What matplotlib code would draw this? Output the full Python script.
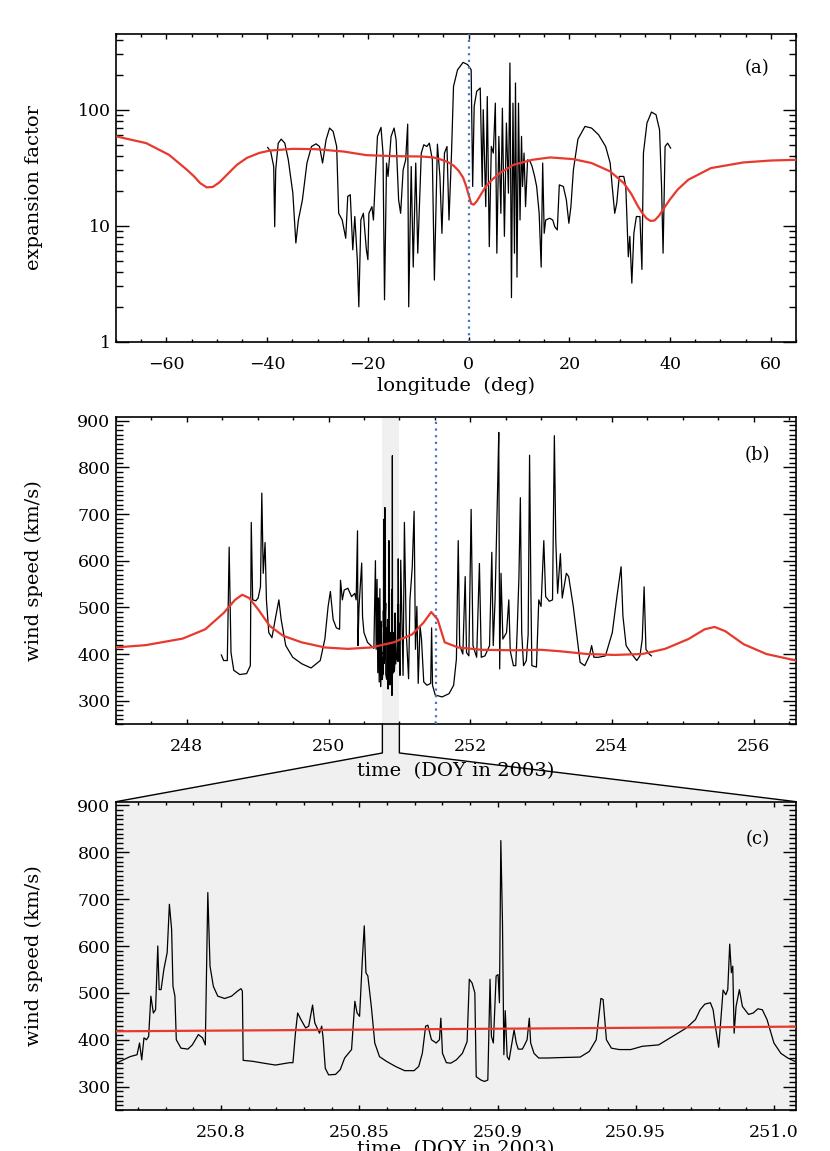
import matplotlib.pyplot as plt
import matplotlib.transforms as mtransforms
from matplotlib.ticker import FixedLocator, FixedFormatter, MultipleLocator, NullFormatter, LogLocator
from matplotlib.patches import Polygon
from matplotlib.lines import Line2D
import numpy as np

# ---- panel (a): expansion factor vs longitude ----
lon_model = [-70, -64, -59.5, -55.9, -54.5, -53.3, -52.0, -50.8, -49.5, -47.7, -46.0, -44.0,
             -41.5, -39.4, -34.9, -30.3, -24.8, -20.3, -14.8, -9.3, -7.0, -5.7, -4.2, -3.0,
             -2.0, -1.1, -0.5, 0.0, 0.5, 1.0, 1.6, 2.5, 3.4, 4.8, 6.2, 8.9, 12.6, 16.2, 20.8,
             24.4, 28.1, 30.8, 32.3, 33.5, 34.5, 35.3, 36.1, 36.9, 37.8, 38.8, 39.9, 41.5,
             43.6, 48.1, 54.5, 60, 65]
efac_model = [59, 51.5, 40.9, 30.3, 26.6, 23.3, 21.4, 21.6, 23.6, 28.3, 33.5, 38.5,
              42.5, 44.5, 46, 45.7, 43.6, 40.6, 39.8, 39.5, 38.8, 37.5, 35.5, 33.0,
              29.8, 26.0, 22.0, 18.5, 15.5, 15.2, 16.2, 18.8, 21.8, 25.3, 28.4, 33.5, 37, 38.8, 37.5,
              34.7, 29.4, 23.3, 18.8, 15.0, 12.8, 11.6, 11.0, 11.1, 12.2, 14.2, 16.7, 20.5,
              24.9, 31.4, 35.1, 36.5, 37.0]

lon_obs = [-39.9, -39.3, -38.7, -38.5, -38.3, -37.8, -37.2, -36.5, -35.8, -34.9, -34.3, -33.8,
           -33.0, -32.1, -31.2, -30.3, -29.6, -29.0, -28.3, -27.6, -26.9, -26.2, -25.8, -25.1,
           -24.4, -24.0, -23.5, -23.0, -22.6, -22.1, -21.8, -21.4, -20.9, -20.3, -20.0, -19.8,
           -19.2, -18.9, -18.5, -18.1, -17.4, -17.0, -16.7, -16.3, -16.0, -15.4, -14.8, -14.4,
           -13.9, -13.5, -13.0, -12.5, -12.1, -11.9, -11.4, -11.0, -10.5, -10.1, -9.4, -8.9,
           -8.3, -7.8, -7.2, -6.8, -6.2, -5.7, -5.3, -4.8, -4.3, -3.9, -3.4, -3.0, -2.2, -1.1,
           -0.2, 0.5, 0.8, 1.1, 1.6, 2.3, 2.7, 2.9, 3.4, 3.7, 4.1, 4.5, 4.9, 5.3, 5.6, 6.0,
           6.4, 6.7, 7.1, 7.5, 7.9, 8.2, 8.5, 8.8, 9.1, 9.3, 9.6, 9.9, 10.2, 10.5, 10.7, 11.0,
           11.3, 11.7, 12.2, 12.6, 13.1, 13.5, 14.0, 14.4, 14.7, 15.0, 15.3, 16.1, 16.7, 17.1,
           17.6, 18.0, 18.8, 19.4, 19.9, 20.3, 20.8, 21.7, 23.1, 24.4, 25.8, 27.2, 28.1, 28.5,
           29.0, 29.4, 29.9, 30.8, 31.2, 31.7, 32.0, 32.4, 32.8, 33.3, 34.0, 34.4, 34.7, 35.4,
           36.3, 37.2, 37.9, 38.3, 38.6, 39.0, 39.5, 40.1]
efac_obs = [47.3, 43.7, 32.4, 9.8, 30.3, 51.5, 55.8, 51.5, 37, 19.1, 7.1, 11.2,
            16.7, 34.7, 48.2, 50.8, 48.2, 34.7, 55.1, 69.5, 65, 48.2, 12.8, 11.2,
            7.8, 17.9, 18.5, 6.2, 12.0, 5.1, 2.0, 11.2, 12.8, 6.2, 5.1, 12.8,
            14.6, 11.2, 26.6, 58.9, 70.4, 42.3, 2.3, 34.7, 26.6, 58.9, 69.5, 55.1,
            16.7, 12.8, 30.3, 37, 75.2, 2.0, 32.4, 4.4, 34.7, 5.8, 42.3, 49.9,
            48.2, 51.5, 37, 3.4, 50.5, 26.6, 8.6, 42.3, 48.2, 11.2, 42.3, 159, 221, 256,
            245, 221, 21.8, 107, 144, 154, 21.8, 100, 14.6, 130, 6.6, 48.2, 42.3, 114, 5.8, 58.9,
            12.8, 103, 8.1, 76.7, 19.1, 253, 2.4, 114, 5.8, 170, 3.6, 114, 11.2, 58.9, 21.8, 42.3,
            14.6, 37, 35.8, 32.4, 26.6, 21.8, 12.8, 4.4, 34.7, 8.6, 11.2, 11.6, 11.2, 9.8,
            9.2, 22.5, 21.8, 16.7, 10.5, 14.6, 30.3, 55.8, 71.8, 69.5, 60.8, 48.2, 34.7, 21.8,
            12.8, 15.6, 26.6, 26.6, 21.8, 5.4, 8.1, 3.2, 8.6, 12.0, 12.0, 4.2, 42.3, 76.7,
            95.5, 90.6, 67.2, 21.8, 5.8, 48.2, 51.5, 46.7]

# ---- panel (b): wind speed vs time ----
t_model = [246.99, 247.42, 247.94, 248.26, 248.52, 248.68, 248.78, 248.88, 249.01, 249.17,
           249.36, 249.62, 249.95, 250.27, 250.60, 250.92, 251.18, 251.34, 251.45, 251.54,
           251.64, 251.83, 252.16, 252.61, 253.00, 253.26, 253.65, 254.04, 254.43, 254.75,
           255.08, 255.31, 255.45, 255.60, 255.86, 256.18, 256.60]
v_model = [414, 419, 433, 453, 488, 516, 527, 520, 495, 460,
           439, 425, 414, 411, 414, 425, 442, 467, 490, 474,
           425, 414, 409, 408, 409, 406, 400, 398, 400, 411,
           432, 453, 458, 449, 421, 400, 386]

t_pre = [248.487, 248.519, 248.571, 248.597, 248.623, 248.662, 248.747, 248.844, 248.896,
         248.909, 248.929, 248.974, 249.006, 249.039, 249.058, 249.078, 249.104, 249.123,
         249.156, 249.201, 249.247, 249.299, 249.331, 249.396, 249.494, 249.623, 249.753,
         249.883, 249.948, 249.994, 250.026, 250.065, 250.110, 250.156, 250.169, 250.195,
         250.221, 250.273, 250.325, 250.370, 250.390, 250.409, 250.415, 250.430, 250.468,
         250.480, 250.500, 250.550, 250.597, 250.640, 250.662, 250.672, 250.685, 250.695,
         250.705, 250.715, 250.725, 250.735, 250.745, 250.755]
v_pre = [398, 386, 386, 629, 403, 365, 356, 358, 375,
         682, 516, 514, 520, 544, 745, 573, 639, 516,
         446, 435, 474, 516, 474, 418, 393, 379, 370,
         386, 432, 502, 534, 474, 456, 453, 558, 516,
         537, 541, 523, 530, 516, 664, 418, 500, 595,
         480, 446, 425, 418, 412, 600, 410, 560, 360,
         520, 340, 540, 330, 470, 345]

t_post = [251.019, 251.052, 251.071, 251.097, 251.130, 251.149, 251.182, 251.208, 251.227,
          251.247, 251.266, 251.292, 251.312, 251.344, 251.390, 251.442, 251.455, 251.468,
          251.506, 251.604, 251.701, 251.766, 251.805, 251.831, 251.851, 251.896, 251.929,
          251.948, 251.981, 252.013, 252.039, 252.091, 252.130, 252.156, 252.208, 252.273,
          252.305, 252.325, 252.351, 252.390, 252.403, 252.416, 252.435, 252.461, 252.513,
          252.545, 252.565, 252.610, 252.643, 252.662, 252.688, 252.708, 252.727, 252.753,
          252.792, 252.818, 252.838, 252.857, 252.870, 252.935, 252.968, 253.000, 253.039,
          253.065, 253.117, 253.162, 253.188, 253.208, 253.234, 253.273, 253.299, 253.357,
          253.390, 253.455, 253.552, 253.617, 253.682, 253.714, 253.747, 253.812, 253.909,
          254.006, 254.071, 254.130, 254.156, 254.201, 254.266, 254.351, 254.396, 254.429,
          254.455, 254.481, 254.526, 254.558]
v_post = [601, 354, 682, 446, 347, 516, 587, 706, 410,
          502, 337, 460, 432, 340, 333, 337, 456, 333,
          312, 308, 315, 333, 389, 643, 418, 400, 566,
          403, 396, 710, 418, 393, 594, 393, 396, 418,
          618, 418, 516, 777, 875, 368, 573, 432, 446,
          516, 407, 375, 375, 446, 566, 735, 446, 375,
          386, 442, 826, 530, 375, 372, 516, 502, 643,
          523, 513, 516, 868, 643, 530, 615, 520, 573,
          566, 502, 382, 375, 396, 418, 393, 393, 396,
          446, 523, 587, 481, 418, 403, 386, 396, 432,
          544, 410, 400, 396]

# ---- panel (c): zoom on the shaded interval ----
t_zoom = [250.7621, 250.7646, 250.7671, 250.7696, 250.7705, 250.7713, 250.7721, 250.7730,
          250.7738, 250.7746, 250.7755, 250.7763, 250.7771, 250.7776, 250.7783, 250.7793,
          250.7805, 250.7813, 250.7821, 250.7826, 250.7833, 250.7838, 250.7855, 250.7880,
          250.7896, 250.7918, 250.7933, 250.7943, 250.7952, 250.7960, 250.7972, 250.7988,
          250.8013, 250.8038, 250.8060, 250.8072, 250.8077, 250.8080, 250.8114, 250.8164,
          250.8197, 250.8247, 250.8260, 250.8269, 250.8277, 250.8289, 250.8306, 250.8317,
          250.8331, 250.8339, 250.8356, 250.8364, 250.8369, 250.8377, 250.8389, 250.8414,
          250.8431, 250.8447, 250.8472, 250.8484, 250.8492, 250.8501, 250.8511, 250.8518,
          250.8524, 250.8531, 250.8544, 250.8556, 250.8573, 250.8598, 250.8631, 250.8664,
          250.8698, 250.8715, 250.8728, 250.8740, 250.8748, 250.8761, 250.8778, 250.8790,
          250.8795, 250.8801, 250.8815, 250.8831, 250.8851, 250.8873, 250.8890, 250.8898,
          250.8908, 250.8918, 250.8923, 250.8940, 250.8953, 250.8965, 250.8973, 250.8978,
          250.8985, 250.8995, 250.9002, 250.9007, 250.9012, 250.9018, 250.9023, 250.9028,
          250.9035, 250.9042, 250.9052, 250.9060, 250.9068, 250.9075, 250.9090, 250.9098,
          250.9107, 250.9115, 250.9120, 250.9132, 250.9149, 250.9182, 250.9232, 250.9299,
          250.9332, 250.9357, 250.9374, 250.9382, 250.9394, 250.9412, 250.9441, 250.9482,
          250.9524, 250.9583, 250.9633, 250.9683, 250.9716, 250.9733, 250.9750, 250.9770,
          250.9780, 250.9788, 250.9800, 250.9808, 250.9816, 250.9826, 250.9833, 250.9840,
          250.9846, 250.9851, 250.9856, 250.9863, 250.9875, 250.9886, 250.9908, 250.9925,
          250.9942, 250.9958, 250.9975, 251.0000, 251.0025, 251.0050, 251.0075, 251.0092]
v_zoom = [350, 357, 364, 368, 393, 357, 404, 400,
          407, 493, 457, 464, 600, 507, 507, 550,
          586, 689, 636, 514, 493, 400, 382, 380,
          389, 411, 404, 389, 714, 557, 514, 493,
          488, 493, 504, 509, 504, 356, 354, 349,
          346, 351, 351, 414, 457, 443, 425, 429,
          474, 436, 414, 429, 404, 339, 325, 326,
          336, 361, 379, 482, 457, 450, 571, 643,
          543, 536, 468, 393, 364, 354, 343, 334,
          334, 343, 371, 429, 431, 400, 393, 400,
          446, 371, 351, 350, 357, 371, 396, 529,
          521, 500, 321, 314, 311, 314, 529, 407,
          393, 536, 539, 479, 825, 650, 368, 462,
          364, 357, 393, 421, 393, 380, 380, 389,
          400, 446, 393, 371, 361, 361, 362, 363,
          375, 400, 488, 486, 400, 382, 379, 379,
          386, 389, 407, 425, 443, 464, 476, 479,
          464, 429, 384, 443, 506, 496, 507, 604,
          543, 557, 414, 471, 507, 471, 454, 457,
          466, 464, 443, 393, 371, 361, 354, 354]
t_zoom_model = [250.762, 250.80, 250.85, 250.90, 250.95, 251.009]
v_zoom_model = [418, 419.5, 421.5, 423.5, 425.5, 428]

band = [250.76, 251.0]
t_cme = 251.51

a_yticks = [1, 10, 100]
a_yticklabels = ['1', '10', '100']
speed_ticks = [300, 400, 500, 600, 700, 800, 900]
c_xticks = [250.8, 250.85, 250.9, 250.95, 251.0]
c_xticklabels = ['250.8', '250.85', '250.9', '250.95', '251.0']

RED = '#e8392e'
BLUE = '#4a74c4'
GRAY = '#eff0ef'
LABEL_SIZE = 14

plt.rcParams['font.family'] = ['DejaVu Serif']
plt.rcParams['mathtext.fontset'] = 'dejavuserif'


def style(ax):
    ax.tick_params(which='both', direction='in', top=True, right=True, labelsize=12.5, width=1.0)
    ax.tick_params(axis='x', which='major', length=3.5, pad=10)
    ax.tick_params(axis='x', which='minor', length=2.2)
    ax.tick_params(axis='y', which='major', length=9.5, pad=4)
    ax.tick_params(axis='y', which='minor', length=5)
    for sp in ax.spines.values():
        sp.set_linewidth(1.2)


fig = plt.figure(figsize=(8.30, 11.51), dpi=100)
ax_a = fig.add_axes([0.1398, 0.7031, 0.8193, 0.2674])
ax_b = fig.add_axes([0.1398, 0.3710, 0.8193, 0.2667])
ax_c = fig.add_axes([0.1398, 0.0356, 0.8193, 0.2679])

# (a)
ax_a.set_yscale('log')
ax_a.plot(lon_obs, efac_obs, color='black', lw=0.9, zorder=2)
ax_a.plot(lon_model, efac_model, color=RED, lw=1.6, zorder=3)
ax_a.axvline(0, color=BLUE, ls=(0, (1, 2)), lw=1.6, zorder=4)
ax_a.set_xlim(-70, 65)
ax_a.set_ylim(1, 450)
ax_a.xaxis.set_major_locator(MultipleLocator(20))
ax_a.xaxis.set_minor_locator(MultipleLocator(5))
ax_a.yaxis.set_major_locator(FixedLocator(a_yticks))
ax_a.yaxis.set_major_formatter(FixedFormatter(a_yticklabels))
ax_a.yaxis.set_minor_locator(LogLocator(base=10, subs=np.arange(2, 10)))
ax_a.yaxis.set_minor_formatter(NullFormatter())
style(ax_a)
ax_a.set_xlabel('longitude  (deg)', fontsize=LABEL_SIZE)
ax_a.xaxis.set_label_coords(0.5, -0.115)
ax_a.set_ylabel('expansion factor', fontsize=LABEL_SIZE)
ax_a.yaxis.set_label_coords(-0.107, 0.5)
ax_a.text(0.943, 0.889, '(a)', transform=ax_a.transAxes, ha='center', va='center', fontsize=13)

# (b)
t_obs = t_pre + t_zoom + t_post
v_obs = v_pre + v_zoom + v_post
ax_b.axvspan(band[0], band[1], color=GRAY, lw=0, zorder=0)
ax_b.plot(t_obs, v_obs, color='black', lw=0.9, zorder=2)
ax_b.plot(t_model, v_model, color=RED, lw=1.6, zorder=3)
ax_b.axvline(t_cme, color=BLUE, ls=(0, (1, 2)), lw=1.6, zorder=4)
ax_b.set_xlim(247, 256.6)
ax_b.set_ylim(250, 908)
ax_b.xaxis.set_major_locator(MultipleLocator(2))
ax_b.xaxis.set_minor_locator(MultipleLocator(0.5))
ax_b.yaxis.set_major_locator(FixedLocator(speed_ticks))
ax_b.yaxis.set_minor_locator(MultipleLocator(10))
style(ax_b)
ax_b.set_xlabel('time  (DOY in 2003)', fontsize=LABEL_SIZE)
ax_b.xaxis.set_label_coords(0.5, -0.125)
ax_b.set_ylabel('wind speed (km/s)', fontsize=LABEL_SIZE)
ax_b.yaxis.set_label_coords(-0.107, 0.5)
ax_b.text(0.943, 0.876, '(b)', transform=ax_b.transAxes, ha='center', va='center', fontsize=13)

# (c)
ax_c.set_facecolor(GRAY)
ax_c.plot(t_zoom, v_zoom, color='black', lw=0.9, zorder=2)
ax_c.plot(t_zoom_model, v_zoom_model, color=RED, lw=1.6, zorder=3)
ax_c.set_xlim(250.762, 251.008)
ax_c.set_ylim(250, 908)
ax_c.xaxis.set_major_locator(FixedLocator(c_xticks))
ax_c.xaxis.set_major_formatter(FixedFormatter(c_xticklabels))
ax_c.xaxis.set_minor_locator(MultipleLocator(0.01))
ax_c.yaxis.set_major_locator(FixedLocator(speed_ticks))
ax_c.yaxis.set_minor_locator(MultipleLocator(10))
style(ax_c)
ax_c.set_xlabel('time  (DOY in 2003)', fontsize=LABEL_SIZE)
ax_c.xaxis.set_label_coords(0.5, -0.098)
ax_c.set_ylabel('wind speed (km/s)', fontsize=LABEL_SIZE)
ax_c.yaxis.set_label_coords(-0.107, 0.5)
ax_c.text(0.943, 0.879, '(c)', transform=ax_c.transAxes, ha='center', va='center', fontsize=13)

# connector from the shaded band in (b) to panel (c)
to_fig = fig.transFigure.inverted()
blend_b = mtransforms.blended_transform_factory(ax_b.transData, ax_b.transAxes)
p_left = to_fig.transform(blend_b.transform((band[0], 0)))
p_right = to_fig.transform(blend_b.transform((band[1], 0)))
c_left = to_fig.transform(ax_c.transAxes.transform((0, 1)))
c_right = to_fig.transform(ax_c.transAxes.transform((1, 1)))
drop = 29.0 / 1151
q_left = (p_left[0], p_left[1] - drop)
q_right = (p_right[0], p_right[1] - drop)

fig.add_artist(Polygon([p_left, q_left, c_left, c_right, q_right, p_right],
                       closed=True, facecolor=GRAY, edgecolor='none', zorder=-1))
for pts in ([p_left, q_left, c_left], [p_right, q_right, c_right]):
    xs = [p[0] for p in pts]
    ys = [p[1] for p in pts]
    fig.add_artist(Line2D(xs, ys, color='black', lw=1.0, zorder=5))

fig.savefig('out.png', dpi=100)
